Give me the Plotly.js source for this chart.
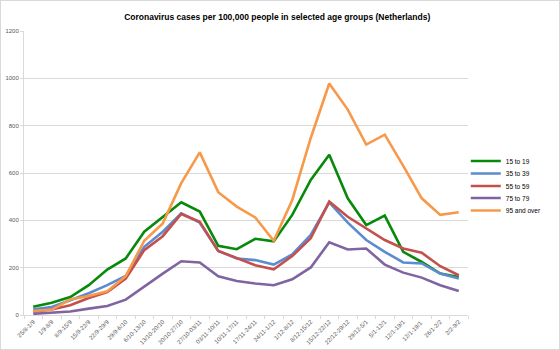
<!DOCTYPE html>
<html>
<head>
<meta charset="utf-8">
<script src="https://cdn.plot.ly/plotly-3.0.1.min.js"></script>
<style>
html,body{margin:0;padding:0;background:#fff;}
#frame{width:560px;height:350px;box-sizing:border-box;border:1px solid #d9d9d9;}
#chart{width:558px;height:348px;}
</style>
</head>
<body>
<div id="frame"><div id="chart"></div></div>
<script>
const weeks = ["25/8-1/9","1/9-8/9","8/9-15/9","15/9-22/9","22/9-29/9","29/9-6/10","6/10-13/10","13/10-20/10","20/10-27/10","27/10-03/11","03/11-10/11","10/11-17/11","17/11-24/11","24/11-1/12","1/12-8/12","8/12-15/12","15/12-22/12","22/12-29/12","29/12-5/1","5/1-12/1","12/1-19/1","12/1-19/1 ","26/1-2/2","2/2-9/2"];
const age15to19 = [35,52,76,126,192,239,352,415,476,437,292,278,322,311,423,571,677,493,380,420,267,224,175,160];
const age35to39 = [24,34,62,92,126,165,288,352,430,390,271,239,232,213,256,338,476,390,317,267,222,218,175,154];
const age55to59 = [14,23,41,72,97,154,274,333,427,394,271,239,210,193,249,324,479,415,366,317,281,263,206,168];
const age75to79 = [5,9,15,27,38,65,121,175,227,222,164,144,133,126,151,201,307,277,281,213,179,158,126,101];
const age95plus = [17,22,66,80,100,164,314,387,557,687,519,458,412,314,486,748,978,868,720,762,630,493,423,434];

const seriesNames = ["15 to 19","35 to 39","55 to 59","75 to 79","95 and over"];
const seriesData = [age15to19, age35to39, age55to59, age75to79, age95plus];
const colors = ["#078a0c","#5b8bd0","#c4504c","#8064a2","#f7994a"];
const legendIds = ["legend","legend2","legend3","legend4","legend5"];
const legendY = [0.542,0.498,0.454,0.412,0.368];

const traces = seriesData.map((d,i)=>({
  x: weeks, y: d, type:"scatter", mode:"lines", name: seriesNames[i],
  legend: legendIds[i],
  line:{color:colors[i], width:2.6}
}));

const layout = {
  width:558, height:348,
  margin:{l:23,r:48,t:30,b:34},
  paper_bgcolor:"#fff", plot_bgcolor:"#fff",
  font:{family:"Liberation Sans, Arial, sans-serif", color:"#595959", size:6},
  title:{text:"Coronavirus cases per 100,000 people in selected age groups (Netherlands)",
    font:{family:"Liberation Sans, Arial, sans-serif", size:8.5, color:"#000", weight:"bold"},
    x:0.495, xanchor:"center", y:0.953, yanchor:"middle"},
  xaxis:{type:"category", categoryorder:"array", categoryarray:weeks, range:[-0.5,23.5],
    tickangle:-45, tickson:"boundaries", ticks:"outside", ticklen:3, tickcolor:"#d9d9d9",
    showline:true, linecolor:"#d9d9d9", linewidth:1, showgrid:false,
    tickfont:{size:6, color:"#595959"}, automargin:false, fixedrange:true},
  yaxis:{range:[0,1200], dtick:200, showgrid:true, gridcolor:"#d9d9d9", gridwidth:1,
    showline:true, linecolor:"#d9d9d9", ticks:"outside", ticklen:3, tickcolor:"#d9d9d9",
    zeroline:false, tickfont:{size:6, color:"#595959"}, automargin:false, fixedrange:true},
  showlegend:true
};
legendIds.forEach((id,i)=>{
  layout[id] = {x:0.995, xanchor:"left", y:legendY[i], yanchor:"middle", bgcolor:"rgba(0,0,0,0)",
    font:{size:6.5, color:"#000"}, itemwidth:30};
});

Plotly.newPlot("chart", traces, layout, {displayModeBar:false, staticPlot:true});
</script>
</body>
</html>
